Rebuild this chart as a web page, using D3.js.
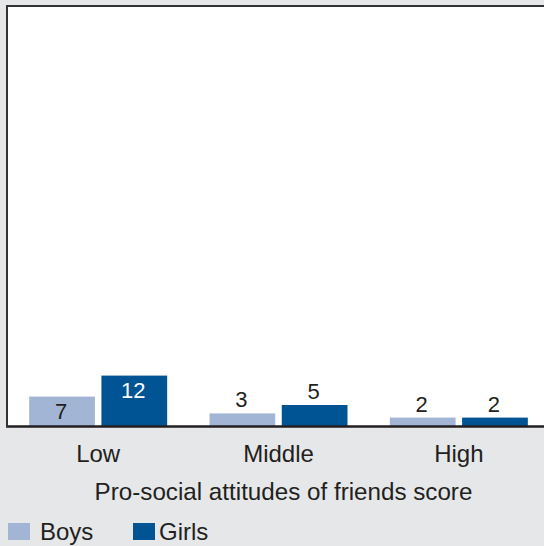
<!DOCTYPE html>
<html><head><meta charset="utf-8">
<script src="https://cdn.jsdelivr.net/npm/d3@7/dist/d3.min.js"></script>
<style>html,body{margin:0;padding:0;background:#e6e7e9;}svg{display:block;font-family:"Liberation Sans",Arial,sans-serif;}</style>
</head><body>
<script>
const categories = ["Low", "Middle", "High"];
const seriesNames = ["Boys", "Girls"];
const boys = [7, 3, 2];
const girls = [12, 5, 2];
const colors = ["#a3b5d5", "#005493"];
const axisTitle = "Pro-social attitudes of friends score";

const W = 544, H = 546;
const m = {left: 7, top: 6, bottom: 426, right: 549};
const svg = d3.select("body").append("svg").attr("width", W).attr("height", H);
svg.append("rect").attr("width", W).attr("height", H).attr("fill", "#e6e7e9");
svg.append("rect").attr("x", m.left).attr("y", m.top).attr("width", W - m.left).attr("height", m.bottom - m.top).attr("fill", "#fff");

const x0 = d3.scaleBand().domain(categories).range([m.left + 1, m.right]).paddingInner(0).paddingOuter(0);
const x1 = d3.scaleBand().domain(seriesNames).range([0, 138]).paddingInner(0.09).paddingOuter(0);
const y = d3.scaleLinear().domain([0, 100]).range([m.bottom, m.top]);

const data = categories.map((c, i) => ({cat: c, vals: [boys[i], girls[i]]}));
const g = svg.selectAll("g.grp").data(data).enter().append("g")
  .attr("transform", d => `translate(${x0(d.cat) + x0.bandwidth() / 2 - 69},0)`);
g.selectAll("rect").data(d => d.vals.map((v, j) => ({v, s: seriesNames[j], j})))
  .enter().append("rect")
  .attr("x", d => x1(d.s)).attr("width", x1.bandwidth())
  .attr("y", d => y(d.v)).attr("height", d => y(0) - y(d.v))
  .attr("fill", d => colors[d.j]);
g.selectAll("text").data(d => d.vals.map((v, j) => ({v, s: seriesNames[j], j})))
  .enter().append("text")
  .attr("x", d => x1(d.s) + x1.bandwidth() / 2 - 1)
  .attr("y", d => d.v >= 7 ? y(d.v) + 22 : y(d.v) - 6)
  .attr("text-anchor", "middle").attr("font-size", 22)
  .attr("fill", d => (d.v >= 7 && d.j === 1) ? "#fff" : "#231f20")
  .text(d => d.v);

// axes lines
const xAxis = d3.axisBottom(x0).tickSize(0).tickPadding(0);
const ax = svg.append("g").attr("transform", `translate(0,${m.bottom})`).call(xAxis);
ax.select(".domain").remove();
ax.selectAll("text").attr("font-size", 24).attr("fill", "#231f20").attr("dy", 0).attr("y", 36).attr("font-family", "Liberation Sans, Arial, sans-serif");
svg.append("line").attr("x1", m.left - 1).attr("x2", W).attr("y1", m.bottom + 0.5).attr("y2", m.bottom + 0.5).attr("stroke", "#231f20").attr("stroke-width", 2.5);
svg.append("line").attr("x1", m.left - 1).attr("x2", W).attr("y1", m.top).attr("y2", m.top).attr("stroke", "#333", ).attr("stroke-width", 2);
svg.append("line").attr("x1", m.left).attr("x2", m.left).attr("y1", m.top - 1).attr("y2", m.bottom + 1).attr("stroke", "#333").attr("stroke-width", 2);

svg.append("text").attr("x", (m.left + W) / 2 + 8).attr("y", 500).attr("text-anchor", "middle")
  .attr("font-size", 24.2).attr("fill", "#231f20").text(axisTitle);

// legend
const lg = svg.append("g");
const lx = [8, 133];
seriesNames.forEach((s, i) => {
  lg.append("rect").attr("x", lx[i]).attr("y", 523).attr("width", 22).attr("height", 17).attr("fill", colors[i]);
  lg.append("text").attr("x", lx[i] + 32 - (i ? 6 : 0)).attr("y", 540).attr("font-size", 24).attr("fill", "#231f20").text(s);
});
</script>
</body></html>
